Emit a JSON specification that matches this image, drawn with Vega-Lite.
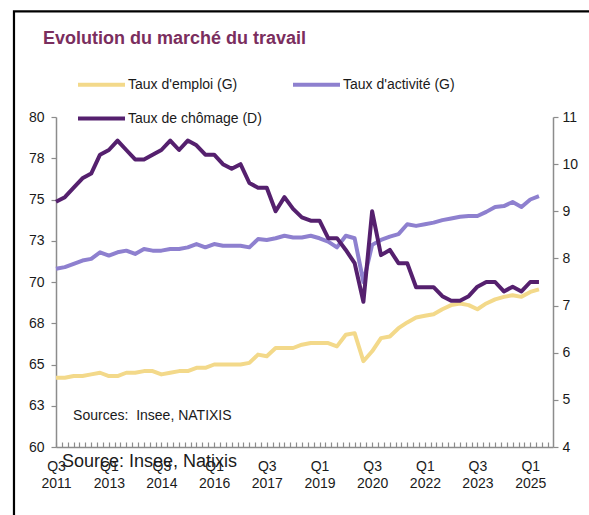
{
  "$schema": "https://vega.github.io/schema/vega-lite/v6.json",
  "width": 497,
  "height": 330,
  "autosize": {"type": "none"},
  "padding": {"left": 56, "top": 117, "right": 36, "bottom": 68},
  "background": "white",
  "title": {
    "text": "Evolution du marché du travail",
    "anchor": "start",
    "frame": "group",
    "dx": -13,
    "dy": 42,
    "fontSize": 18,
    "fontWeight": "bold",
    "color": "#7a2e5e",
    "font": "Liberation Sans"
  },
  "config": {
    "font": "Liberation Sans",
    "view": {"stroke": null},
    "axis": {"labelFont": "Liberation Sans", "labelColor": "#1a1a1a", "labelFontSize": 14, "domainColor": "#8c8c8c", "tickColor": "#8c8c8c", "domainWidth": 1.5, "tickWidth": 1.2, "grid": false, "title": null}
  },
  "data": {
    "values": [
      {"date": "2011-07-01", "emploi": 64.2, "activite": 70.8, "chomage": 9.2},
      {"date": "2011-10-01", "emploi": 64.2, "activite": 70.9, "chomage": 9.3},
      {"date": "2012-01-01", "emploi": 64.3, "activite": 71.1, "chomage": 9.5},
      {"date": "2012-04-01", "emploi": 64.3, "activite": 71.3, "chomage": 9.7},
      {"date": "2012-07-01", "emploi": 64.4, "activite": 71.4, "chomage": 9.8},
      {"date": "2012-10-01", "emploi": 64.5, "activite": 71.8, "chomage": 10.2},
      {"date": "2013-01-01", "emploi": 64.3, "activite": 71.6, "chomage": 10.3},
      {"date": "2013-04-01", "emploi": 64.3, "activite": 71.8, "chomage": 10.5},
      {"date": "2013-07-01", "emploi": 64.5, "activite": 71.9, "chomage": 10.3},
      {"date": "2013-10-01", "emploi": 64.5, "activite": 71.7, "chomage": 10.1},
      {"date": "2014-01-01", "emploi": 64.6, "activite": 72.0, "chomage": 10.1},
      {"date": "2014-04-01", "emploi": 64.6, "activite": 71.9, "chomage": 10.2},
      {"date": "2014-07-01", "emploi": 64.4, "activite": 71.9, "chomage": 10.3},
      {"date": "2014-10-01", "emploi": 64.5, "activite": 72.0, "chomage": 10.5},
      {"date": "2015-01-01", "emploi": 64.6, "activite": 72.0, "chomage": 10.3},
      {"date": "2015-04-01", "emploi": 64.6, "activite": 72.1, "chomage": 10.5},
      {"date": "2015-07-01", "emploi": 64.8, "activite": 72.3, "chomage": 10.4},
      {"date": "2015-10-01", "emploi": 64.8, "activite": 72.1, "chomage": 10.2},
      {"date": "2016-01-01", "emploi": 65.0, "activite": 72.3, "chomage": 10.2},
      {"date": "2016-04-01", "emploi": 65.0, "activite": 72.2, "chomage": 10.0},
      {"date": "2016-07-01", "emploi": 65.0, "activite": 72.2, "chomage": 9.9},
      {"date": "2016-10-01", "emploi": 65.0, "activite": 72.2, "chomage": 10.0},
      {"date": "2017-01-01", "emploi": 65.1, "activite": 72.1, "chomage": 9.6},
      {"date": "2017-04-01", "emploi": 65.6, "activite": 72.6, "chomage": 9.5},
      {"date": "2017-07-01", "emploi": 65.5, "activite": 72.55, "chomage": 9.5},
      {"date": "2017-10-01", "emploi": 66.0, "activite": 72.65, "chomage": 9.0},
      {"date": "2018-01-01", "emploi": 66.0, "activite": 72.8, "chomage": 9.3},
      {"date": "2018-04-01", "emploi": 66.0, "activite": 72.7, "chomage": 9.05},
      {"date": "2018-07-01", "emploi": 66.2, "activite": 72.7, "chomage": 8.87},
      {"date": "2018-10-01", "emploi": 66.3, "activite": 72.8, "chomage": 8.8},
      {"date": "2019-01-01", "emploi": 66.3, "activite": 72.65, "chomage": 8.8},
      {"date": "2019-04-01", "emploi": 66.3, "activite": 72.45, "chomage": 8.43},
      {"date": "2019-07-01", "emploi": 66.1, "activite": 72.1, "chomage": 8.43},
      {"date": "2019-10-01", "emploi": 66.8, "activite": 72.8, "chomage": 8.18},
      {"date": "2020-01-01", "emploi": 66.9, "activite": 72.65, "chomage": 7.9},
      {"date": "2020-04-01", "emploi": 65.2, "activite": 70.0, "chomage": 7.08},
      {"date": "2020-07-01", "emploi": 65.8, "activite": 72.25, "chomage": 9.0},
      {"date": "2020-10-01", "emploi": 66.6, "activite": 72.55, "chomage": 8.07},
      {"date": "2021-01-01", "emploi": 66.7, "activite": 72.75, "chomage": 8.18},
      {"date": "2021-04-01", "emploi": 67.2, "activite": 72.9, "chomage": 7.9},
      {"date": "2021-07-01", "emploi": 67.55, "activite": 73.5, "chomage": 7.9},
      {"date": "2021-10-01", "emploi": 67.85, "activite": 73.4, "chomage": 7.39},
      {"date": "2022-01-01", "emploi": 67.95, "activite": 73.5, "chomage": 7.39},
      {"date": "2022-04-01", "emploi": 68.05, "activite": 73.6, "chomage": 7.39},
      {"date": "2022-07-01", "emploi": 68.35, "activite": 73.75, "chomage": 7.2},
      {"date": "2022-10-01", "emploi": 68.6, "activite": 73.85, "chomage": 7.1},
      {"date": "2023-01-01", "emploi": 68.7, "activite": 73.95, "chomage": 7.1},
      {"date": "2023-04-01", "emploi": 68.6, "activite": 74.0, "chomage": 7.2},
      {"date": "2023-07-01", "emploi": 68.35, "activite": 74.0, "chomage": 7.4},
      {"date": "2023-10-01", "emploi": 68.7, "activite": 74.25, "chomage": 7.5},
      {"date": "2024-01-01", "emploi": 68.95, "activite": 74.55, "chomage": 7.5},
      {"date": "2024-04-01", "emploi": 69.1, "activite": 74.6, "chomage": 7.3},
      {"date": "2024-07-01", "emploi": 69.2, "activite": 74.85, "chomage": 7.4},
      {"date": "2024-10-01", "emploi": 69.1, "activite": 74.55, "chomage": 7.3},
      {"date": "2025-01-01", "emploi": 69.4, "activite": 75.0, "chomage": 7.5},
      {"date": "2025-04-01", "emploi": 69.55, "activite": 75.2, "chomage": 7.5}
    ]
  },
  "layer": [
    {
      "layer": [
        {
          "data": {"values": [{"note": "cadre"}]},
          "mark": {"type": "rect", "fill": "transparent", "stroke": "#000000", "strokeWidth": 2.2, "clip": false},
          "encoding": {
            "x": {"datum": {"year": 2010, "month": 4, "date": 20, "utc": true}, "type": "temporal"},
            "x2": {"datum": {"year": 2027, "month": 6, "date": 1, "utc": true}},
            "y": {"datum": 86.4, "type": "quantitative"},
            "y2": {"datum": 54}
          }
        },
        {
          "transform": [{"fold": ["emploi", "activite"], "as": ["serie", "valeur"]}],
          "mark": {"type": "line", "strokeWidth": 4, "strokeJoin": "round", "clip": false},
          "encoding": {
            "x": {
              "field": "date",
              "type": "temporal",
              "scale": {"type": "utc", "domain": ["2011-07-01", "2025-08-25"], "nice": false},
              "axis": {
                "tickCount": {"interval": "month", "step": 2},
                "tickSize": -5,
                "labelPadding": 17,
                "labelLineHeight": 17,
                "labelOverlap": false,
                "labelBound": false,
                "labelFlush": false,
                "labelAlign": "center",
                "labelExpr": "((utcyear(datum.value)-2011)*12 + utcmonth(datum.value) - 6) % 18 == 0 ? ['Q' + (floor(utcmonth(datum.value)/3)+1), '' + utcyear(datum.value)] : ''"
              }
            },
            "y": {
              "field": "valeur",
              "type": "quantitative",
              "scale": {"domain": [60, 80], "nice": false, "zero": false},
              "axis": {"orient": "left", "values": [60, 62.5, 65, 67.5, 70, 72.5, 75, 77.5, 80], "format": ".0f", "tickSize": 5, "labelPadding": 7}
            },
            "color": {
              "field": "serie",
              "type": "nominal",
              "scale": {"domain": ["emploi", "chomage", "activite"], "range": ["#f3d98a", "#55206e", "#8e80cf"]},
              "legend": {
                "title": null,
                "orient": "none",
                "legendX": 20,
                "legendY": -58,
                "columns": 2,
                "columnPadding": 23,
                "rowPadding": -1,
                "symbolType": "stroke",
                "symbolSize": 2209,
                "symbolStrokeWidth": 4,
                "labelFontSize": 14,
                "labelColor": "#1a1a1a",
                "labelOffset": 1,
                "labelLimit": 300,
                "labelExpr": "datum.label == 'emploi' ? \"Taux d'emploi (G)\" : datum.label == 'activite' ? \"Taux d'activité (G)\" : 'Taux de chômage (D)'"
              }
            }
          }
        },
        {
          "data": {"values": [{"note": "sources"}]},
          "mark": {"type": "text", "align": "left", "baseline": "middle", "fontSize": 14, "color": "#1a1a1a"},
          "encoding": {
            "x": {"datum": {"year": 2011, "month": 12, "date": 26, "utc": true}, "type": "temporal"},
            "y": {"datum": 61.88, "type": "quantitative"},
            "text": {"value": "Sources: \u00a0Insee, NATIXIS"}
          }
        },
        {
          "data": {"values": [{"note": "source"}]},
          "mark": {"type": "text", "align": "left", "baseline": "middle", "fontSize": 18, "color": "#1a1a1a", "clip": false},
          "encoding": {
            "x": {"datum": {"year": 2011, "month": 9, "date": 1, "utc": true}, "type": "temporal"},
            "y": {"datum": 59.1, "type": "quantitative"},
            "text": {"value": "Source: Insee, Natixis"}
          }
        }
      ]
    },
    {
      "transform": [{"fold": ["chomage"], "as": ["serie", "valeur"]}],
      "mark": {"type": "line", "strokeWidth": 4, "strokeJoin": "round", "clip": false},
      "encoding": {
        "x": {"field": "date", "type": "temporal"},
        "y": {
          "field": "valeur",
          "type": "quantitative",
          "scale": {"domain": [4, 11], "nice": false, "zero": false},
          "axis": {"orient": "right", "values": [4, 5, 6, 7, 8, 9, 10, 11], "tickSize": 5, "labelPadding": 4}
        },
        "color": {"field": "serie", "type": "nominal"}
      }
    }
  ],
  "resolve": {"scale": {"y": "independent"}}
}
